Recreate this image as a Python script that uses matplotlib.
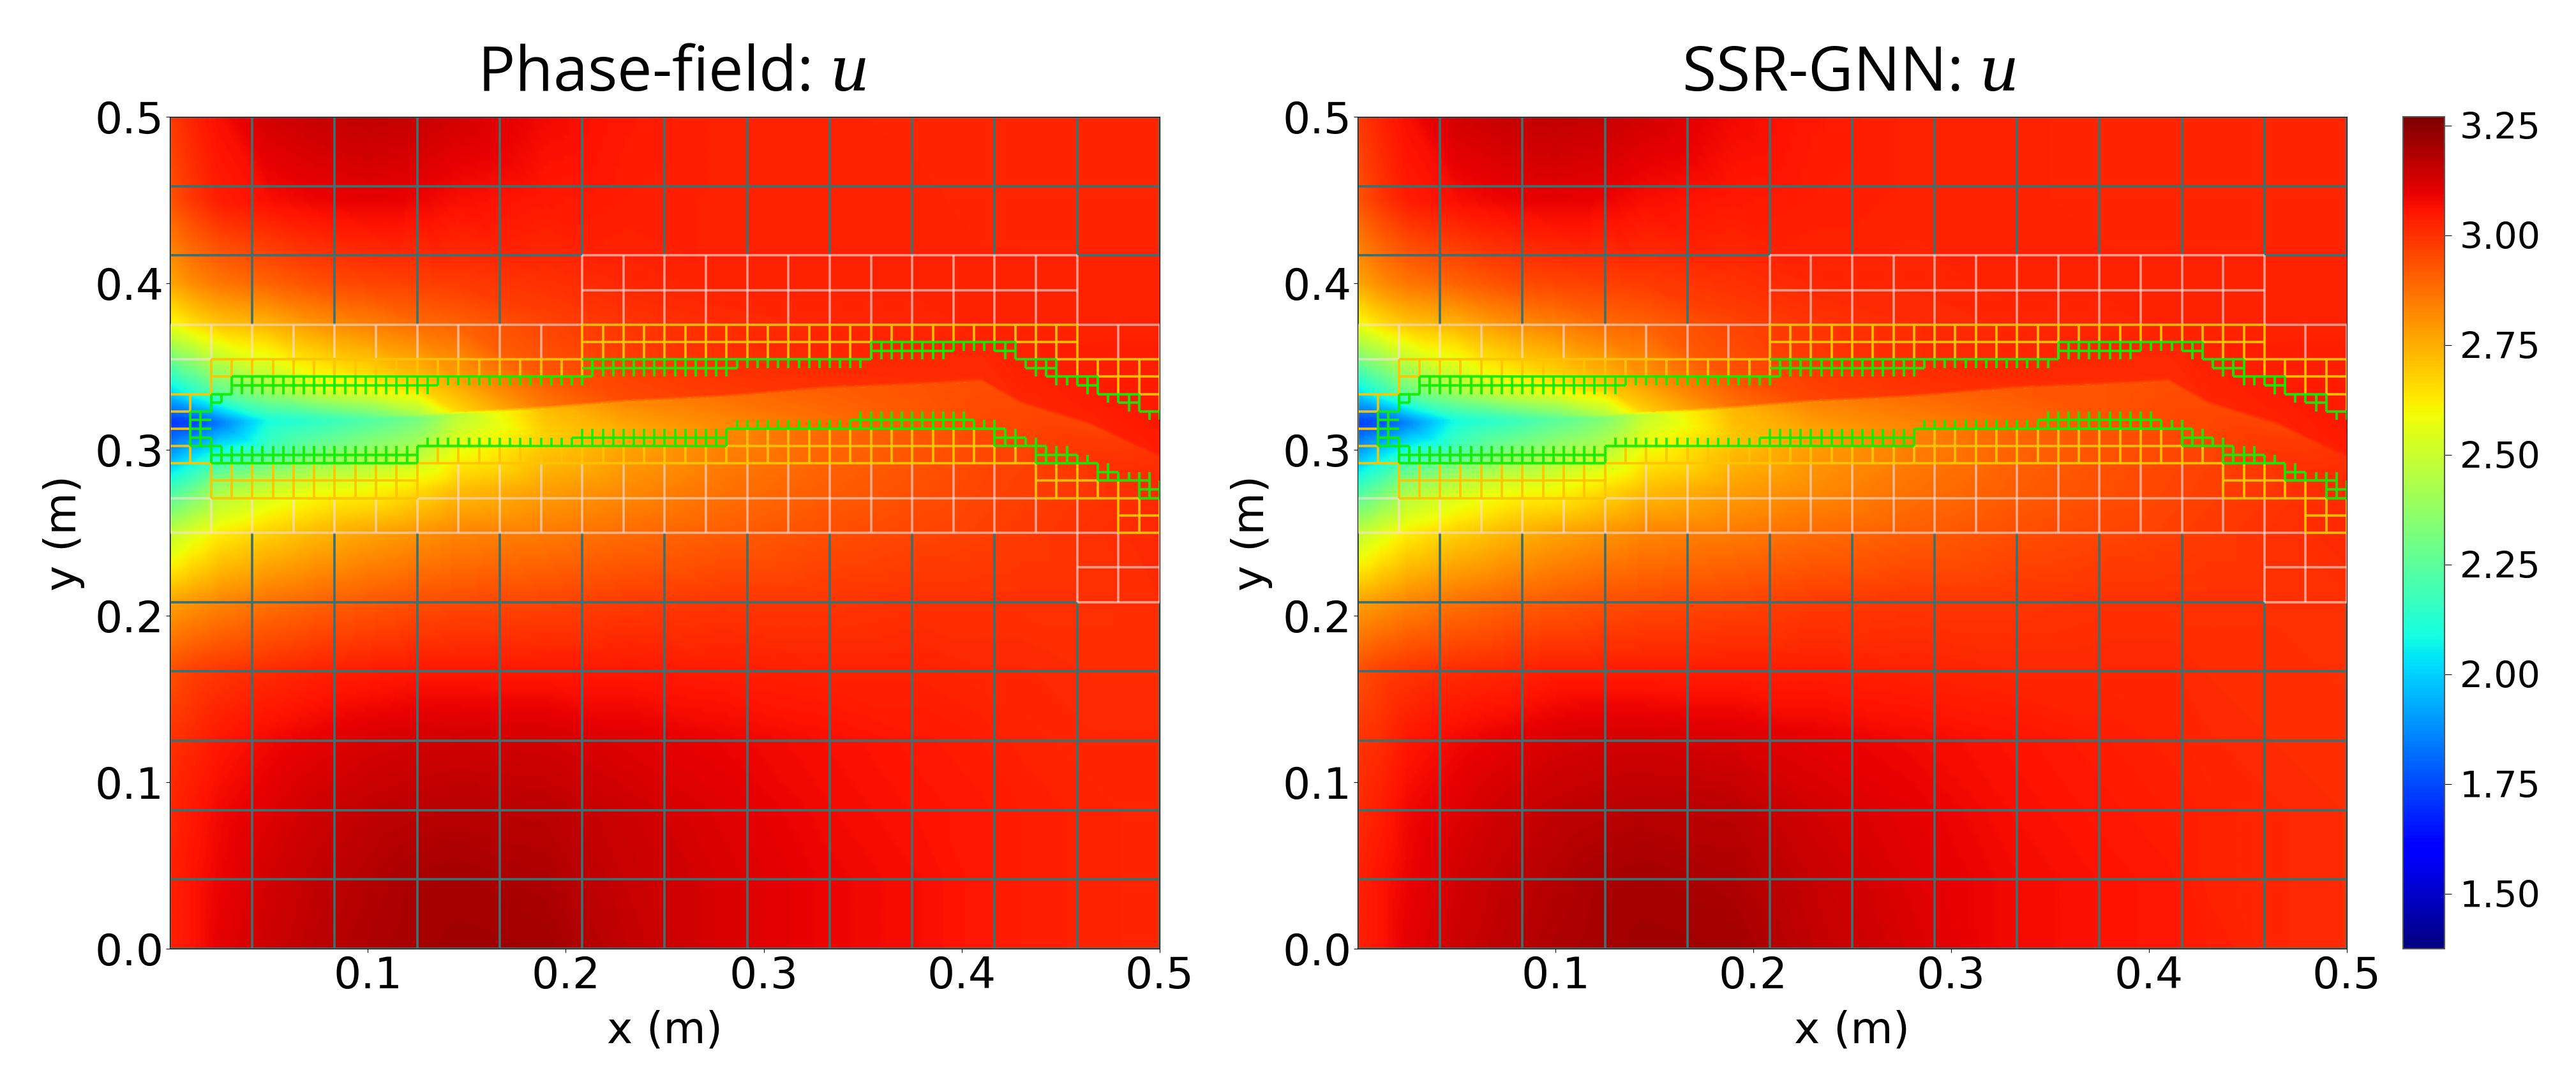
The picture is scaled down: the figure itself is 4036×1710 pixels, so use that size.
import numpy as np
import matplotlib
matplotlib.use("Agg")
import matplotlib.pyplot as plt
import matplotlib.tri as mtri

plt.rcParams['mathtext.fontset'] = 'dejavuserif'

# x stations (m) of the value tables, crack edge height at each station
x_st = [0, .012, .025, .05, .075, .1, .125, .145, .19, .23, .28, .33, .38, .41, .43, .465, .5]
crack_edge = [.316, .316, .316, .317, .318, .319, .32, .322, .3255, .3295, .3324, .3375, .34, .342, .3285, .3157, .2965]
y_below = [0, .042, .083, .125, .167, .208, .25, .275]
crack_off = [-.018, -.001, .001, .018]
y_above = [.375, .4, .45, .5]

u_pf = [
    [3.03, 3.06, 3.10, 3.14, 3.17, 3.19, 3.205, 3.215, 3.21, 3.16, 3.12, 3.09, 3.07, 3.05, 3.04, 3.03, 3.02],
    [3.03, 3.06, 3.09, 3.13, 3.16, 3.18, 3.20, 3.205, 3.19, 3.15, 3.12, 3.09, 3.07, 3.05, 3.04, 3.03, 3.02],
    [3.02, 3.05, 3.08, 3.11, 3.14, 3.16, 3.17, 3.175, 3.17, 3.14, 3.11, 3.08, 3.06, 3.05, 3.04, 3.03, 3.02],
    [3.00, 3.02, 3.05, 3.08, 3.10, 3.12, 3.13, 3.135, 3.13, 3.11, 3.09, 3.07, 3.05, 3.04, 3.03, 3.02, 3.02],
    [2.94, 2.97, 2.99, 3.01, 3.03, 3.04, 3.05, 3.05, 3.05, 3.05, 3.04, 3.03, 3.03, 3.02, 3.02, 3.01, 3.01],
    [2.77, 2.80, 2.83, 2.87, 2.90, 2.92, 2.94, 2.95, 2.96, 2.98, 2.99, 2.99, 3.00, 3.00, 3.00, 3.00, 3.01],
    [2.48, 2.55, 2.62, 2.68, 2.73, 2.77, 2.80, 2.83, 2.85, 2.88, 2.91, 2.94, 2.96, 2.97, 2.98, 3.00, 3.02],
    [2.20, 2.30, 2.43, 2.52, 2.58, 2.60, 2.66, 2.72, 2.78, 2.82, 2.87, 2.91, 2.94, 2.96, 2.97, 2.99, 3.02],
    [1.90, 2.00, 2.10, 2.20, 2.30, 2.37, 2.43, 2.55, 2.68, 2.75, 2.82, 2.88, 2.92, 2.95, 2.96, 2.99, 3.02],
    [1.72, 1.75, 1.85, 2.10, 2.15, 2.22, 2.30, 2.47, 2.72, 2.82, 2.87, 2.91, 2.93, 2.94, 2.95, 2.96, 3.00],
    [1.72, 1.75, 1.85, 2.10, 2.17, 2.27, 2.42, 2.66, 2.86, 2.95, 2.98, 3.00, 3.01, 3.01, 3.02, 3.03, 3.04],
    [2.00, 2.12, 2.25, 2.40, 2.53, 2.60, 2.68, 2.76, 2.92, 2.97, 3.00, 3.02, 3.02, 3.02, 3.03, 3.04, 3.05],
    [2.58, 2.65, 2.70, 2.74, 2.80, 2.84, 2.88, 2.90, 2.96, 2.99, 3.01, 3.02, 3.02, 3.03, 3.03, 3.03, 3.03],
    [2.76, 2.82, 2.86, 2.90, 2.94, 2.96, 2.97, 2.98, 3.00, 3.02, 3.03, 3.03, 3.03, 3.03, 3.03, 3.03, 3.03],
    [2.93, 2.99, 3.04, 3.07, 3.09, 3.10, 3.09, 3.07, 3.05, 3.04, 3.03, 3.03, 3.03, 3.02, 3.02, 3.02, 3.02],
    [2.98, 3.03, 3.07, 3.13, 3.15, 3.16, 3.15, 3.13, 3.08, 3.05, 3.03, 3.03, 3.02, 3.02, 3.02, 3.02, 3.02],
]

u_gnn = [
    [3.03, 3.06, 3.10, 3.14, 3.17, 3.19, 3.205, 3.215, 3.21, 3.16, 3.12, 3.08, 3.06, 3.05, 3.04, 3.02, 3.01],
    [3.03, 3.06, 3.09, 3.13, 3.16, 3.18, 3.20, 3.205, 3.19, 3.15, 3.11, 3.08, 3.06, 3.05, 3.03, 3.02, 3.01],
    [3.01, 3.04, 3.08, 3.11, 3.14, 3.16, 3.17, 3.175, 3.17, 3.13, 3.10, 3.07, 3.05, 3.04, 3.03, 3.02, 3.01],
    [2.99, 3.01, 3.05, 3.08, 3.10, 3.12, 3.13, 3.13, 3.12, 3.10, 3.08, 3.06, 3.04, 3.03, 3.02, 3.01, 3.01],
    [2.94, 2.97, 2.99, 3.01, 3.02, 3.04, 3.04, 3.04, 3.04, 3.04, 3.03, 3.02, 3.02, 3.02, 3.01, 3.01, 3.00],
    [2.77, 2.80, 2.83, 2.87, 2.90, 2.92, 2.94, 2.95, 2.96, 2.98, 2.99, 2.99, 3.00, 3.00, 3.00, 3.00, 3.00],
    [2.48, 2.55, 2.62, 2.68, 2.73, 2.77, 2.80, 2.83, 2.85, 2.88, 2.91, 2.94, 2.96, 2.97, 2.98, 3.00, 3.02],
    [2.20, 2.30, 2.43, 2.52, 2.58, 2.60, 2.66, 2.72, 2.78, 2.82, 2.87, 2.91, 2.94, 2.96, 2.97, 2.99, 3.02],
    [1.92, 2.02, 2.12, 2.22, 2.32, 2.39, 2.45, 2.57, 2.70, 2.77, 2.83, 2.89, 2.93, 2.95, 2.96, 2.99, 3.02],
    [1.74, 1.77, 1.87, 2.10, 2.16, 2.24, 2.33, 2.49, 2.73, 2.83, 2.88, 2.92, 2.93, 2.94, 2.95, 2.96, 3.00],
    [1.74, 1.77, 1.87, 2.10, 2.18, 2.29, 2.45, 2.68, 2.87, 2.96, 2.99, 3.01, 3.01, 3.01, 3.02, 3.03, 3.04],
    [2.02, 2.14, 2.27, 2.42, 2.55, 2.62, 2.70, 2.78, 2.93, 2.98, 3.01, 3.02, 3.02, 3.02, 3.03, 3.04, 3.05],
    [2.58, 2.65, 2.70, 2.74, 2.80, 2.84, 2.88, 2.90, 2.96, 2.99, 3.01, 3.02, 3.02, 3.03, 3.03, 3.03, 3.03],
    [2.76, 2.82, 2.86, 2.90, 2.94, 2.96, 2.97, 2.98, 3.00, 3.02, 3.02, 3.03, 3.03, 3.03, 3.03, 3.03, 3.03],
    [2.93, 2.99, 3.04, 3.07, 3.09, 3.10, 3.09, 3.07, 3.05, 3.04, 3.03, 3.03, 3.02, 3.02, 3.02, 3.02, 3.02],
    [2.98, 3.03, 3.07, 3.13, 3.15, 3.16, 3.15, 3.13, 3.08, 3.05, 3.03, 3.03, 3.02, 3.02, 3.02, 3.02, 3.02],
]

# mesh lines in base cell units: h = (j, i0, i1), v = (i, j0, j1),
# comb = (i0, i1, di, j0, j1) for a run of equal verticals
lv0_h = [(0, 0, 12), (1, 0, 12), (2, 0, 12), (3, 0, 12), (4, 0, 12), (5, 0, 11), (10, 0, 5), (10, 11, 12), (11, 0, 12), (12, 0, 12)]
lv0_v = [(0, 0, 6), (0, 9, 12), (12, 0, 5), (12, 10, 12), (5, 10, 12)]
lv0_comb = [(1, 5, 1, 0, 6), (1, 4, 1, 9, 12), (6, 10, 1, 0, 6), (6, 11, 1, 10, 12), (11, 11, 1, 0, 5)]

lv1_h = [(10, 5, 11), (9.5, 5, 11), (9, 0, 5), (9, 11, 12), (8.5, 0, .5), (6.5, 0, .5), (6.5, 3, 10.5),
         (6, 0, 11.5), (5.5, 11, 12), (5, 11, 12)]
lv1_v = [(0, 8, 9), (0, 6, 6.5), (12, 8.5, 9), (12, 5, 6), (11, 5, 6.5), (11.5, 5, 6), (11.5, 8.5, 9), (.5, 8.5, 9), (10.5, 6, 6.5)]
lv1_comb = [(5, 11, .5, 9, 10), (1, 4.5, .5, 8.5, 9), (.5, 3, .5, 6, 6.5), (3.5, 10, .5, 6, 7)]

lv2_h = [(9, 5, 11), (8.75, 5, 8.5), (8.75, 10.25, 11), (8.5, .5, 5), (8.5, 10.75, 12), (8.25, .5, .75), (8.25, 11.25, 12),
         (8, 0, .5), (8, 11.75, 12), (7.75, 0, .25), (7.5, 0, .25), (7.25, 0, .25), (7.25, 6.75, 10), (7, 0, .5), (7, 3, 10.5),
         (6.75, .5, 3), (6.75, 10.5, 11.25), (6.5, .5, 3), (6.5, 10.5, 11.75), (6.25, 11.5, 12), (6, 11.5, 12)]
lv2_v = [(.5, 8, 8.5), (.25, 7.75, 8), (.25, 7, 7.25), (0, 7, 8), (3, 6.5, 7), (10, 7, 7.25), (10.25, 7, 7.25), (10.5, 6.5, 7),
         (10.75, 6.5, 7), (11, 6.5, 7), (11.25, 6.5, 6.75), (11.5, 6, 6.75), (11.75, 6, 6.5), (12, 6, 6.5),
         (5, 8.25, 9), (10.5, 8.5, 9), (10.75, 8.5, 9), (11, 8.25, 9), (11.25, 8.25, 8.5), (11.5, 8, 8.5), (11.75, 8, 8.5), (12, 7.75, 8.5)]
lv2_comb = [(.75, 4.75, .25, 8.25, 8.5), (5.25, 8.5, .25, 8.5, 9), (8.75, 10.25, .25, 8.75, 9), (.5, 2.75, .25, 6.5, 7),
            (3.25, 9.75, .25, 7, 7.25), (7, 9.75, .25, 7.25, 7.5)]

lv3_h = [(8.5, 5, 8.5), (8.375, 5, 6.875), (8.25, .75, 5.125), (8.125, .75, 3.25), (8, .5, .75), (7.875, .5, .625),
         (7.75, .25, .5), (7.625, .25, .5), (7.5, .25, .5), (7.375, .25, .5), (7.25, .25, .625), (7.125, .5, 3), (7, .5, 3),
         (8.75, 8.5, 10.25), (8.625, 8.5, 9.5), (8.625, 10, 10.25), (8.5, 10.25, 10.75), (8.375, 10.375, 10.75),
         (8.25, 10.625, 11.25), (8.125, 11, 11.25), (8, 11.25, 11.75), (7.875, 11.5, 11.75), (7.75, 11.75, 12),
         (7.25, 3, 6.75), (7.375, 4.875, 6.75), (7.5, 6.75, 10.125), (7.625, 8.25, 9.75), (7.375, 10, 10.375), (7.25, 10, 10.625),
         (7.125, 10.5, 11), (7, 10.5, 11.25), (6.875, 11.25, 11.5), (6.75, 11.25, 11.875), (6.625, 11.75, 12), (6.5, 11.75, 12)]
lv3_v = [(.25, 7.25, 7.75), (.375, 7.25, 7.75), (.5, 7.75, 8), (.5, 7.25, 7.375), (.5, 7, 7.25), (.625, 7.875, 8), (.625, 7, 7.25),
         (5.125, 8.25, 8.5), (8.5, 8.5, 8.75), (9.5, 8.625, 8.75), (10, 8.625, 8.75), (10.125, 8.5, 8.75), (10.25, 8.5, 8.75),
         (10.375, 8.375, 8.5), (10.5, 8.25, 8.5), (10.625, 8.25, 8.5), (10.75, 8.125, 8.5), (10.875, 8.125, 8.25), (11, 8.125, 8.25),
         (11.125, 8, 8.25), (11.25, 8, 8.25), (11.375, 7.875, 8), (11.5, 7.875, 8), (11.625, 7.75, 8), (11.75, 7.75, 8),
         (11.875, 7.625, 7.75), (12, 7.625, 7.75), (3, 7, 7.25), (4.875, 7.25, 7.375), (6.75, 7.25, 7.5), (8.25, 7.5, 7.625),
         (9.75, 7.5, 7.625), (9.875, 7.5, 7.625), (10, 7.25, 7.625), (10.125, 7.25, 7.5), (10.25, 7.25, 7.5), (10.375, 7.25, 7.375),
         (10.5, 7, 7.375), (10.625, 7, 7.25), (10.75, 7, 7.25), (10.875, 7, 7.25), (11, 7, 7.125), (11.125, 7, 7.125),
         (11.25, 6.75, 7), (11.375, 6.75, 7), (11.5, 6.75, 6.875), (11.625, 6.75, 6.875), (11.75, 6.5, 6.875), (11.875, 6.5, 6.875),
         (12, 6.5, 6.75)]
lv3_comb = [(.75, 3.125, .125, 8, 8.25), (3.25, 5, .125, 8.125, 8.25), (5.25, 6.75, .125, 8.25, 8.5), (6.875, 8.375, .125, 8.375, 8.5),
            (8.625, 9.375, .125, 8.5, 8.75), (9.625, 9.875, .125, 8.625, 8.75), (.75, 2.875, .125, 7, 7.25),
            (3.125, 4.75, .125, 7.25, 7.375), (5, 6.625, .125, 7.25, 7.5), (6.875, 8.125, .125, 7.5, 7.625), (8.375, 9.625, .125, 7.5, 7.75)]

levels = [
    (lv0_h, lv0_v, lv0_comb, '#3f7070', 1.0),
    (lv1_h, lv1_v, lv1_comb, '#ffdcdc', 0.62),
    (lv2_h, lv2_v, lv2_comb, '#ffc400', 0.95),
    (lv3_h, lv3_v, lv3_comb, '#10ee00', 0.95),
]

cell = 0.5 / 12
vmin, vmax = 1.375, 3.27
cb_ticks = [1.5, 1.75, 2.0, 2.25, 2.5, 2.75, 3.0, 3.25]

W, H = 4037, 1710


def px_axes(fig, x0, x1, y0, y1):
    return fig.add_axes([x0 / W, 1 - y1 / H, (x1 - x0) / W, (y1 - y0) / H])


def field(ax, table):
    xs = np.array(x_st)
    edge = np.array(crack_edge)
    rows = [np.full(len(xs), v) for v in y_below]
    rows += [edge + o for o in crack_off]
    rows += [np.full(len(xs), v) for v in y_above]
    Y = np.array(rows)
    X = np.tile(xs, (len(rows), 1))
    U = np.array(table)
    nr, nc = U.shape
    tris = []
    for r in range(nr - 1):
        for c in range(nc - 1):
            a = r * nc + c
            tris.append([a, a + 1, a + nc])
            tris.append([a + 1, a + nc + 1, a + nc])
    tr = mtri.Triangulation(X.ravel(), Y.ravel(), tris)
    refiner = mtri.UniformTriRefiner(tr)
    interp = mtri.LinearTriInterpolator(tr, U.ravel())
    tr2, u2 = refiner.refine_field(U.ravel(), triinterpolator=interp, subdiv=4)
    return ax.tripcolor(tr2, u2, shading='gouraud', cmap='jet', vmin=vmin, vmax=vmax, rasterized=True)


def mesh(ax):
    for hs, vs, combs, col, al in levels:
        kw = dict(colors=col, alpha=al, linewidth=2.7, capstyle='butt')
        for j, i0, i1 in hs:
            ax.hlines(j * cell, i0 * cell, i1 * cell, **kw)
        for i, j0, j1 in vs:
            ax.vlines(i * cell, j0 * cell, j1 * cell, **kw)
        for i0, i1, di, j0, j1 in combs:
            for i in np.arange(i0, i1 + di / 2, di):
                ax.vlines(i * cell, j0 * cell, j1 * cell, **kw)


def panel(fig, x0, x1, table, title, title_x):
    ax = px_axes(fig, x0, x1, 183, 1487)
    pc = field(ax, table)
    mesh(ax)
    ax.set_xlim(0, 0.5)
    ax.set_ylim(0, 0.5)
    ax.set_xticks([0.1, 0.2, 0.3, 0.4, 0.5])
    ax.set_yticks([0.0, 0.1, 0.2, 0.3, 0.4, 0.5])
    ax.tick_params(labelsize=49, length=4, width=0.8, pad=3)
    ax.set_xlabel('x (m)', fontsize=49, labelpad=14)
    ax.set_ylabel('y (m)', fontsize=49, labelpad=11)
    for s in ax.spines.values():
        s.set_linewidth(0.8)
    fig.text(title_x / W, 1 - 142 / H, title, fontsize=70, family='Open Sans', ha='center', va='baseline')
    return pc


fig = plt.figure(figsize=(W / 100, H / 100), dpi=100)
pc = panel(fig, 266, 1817, u_pf, 'Phase-field: $u$', 1052)
panel(fig, 2127, 3677, u_gnn, 'SSR-GNN: $u$', 2897)

cax = px_axes(fig, 3765, 3830, 183, 1487)
cb = fig.colorbar(pc, cax=cax, ticks=cb_ticks, format='%.2f')
cb.ax.tick_params(labelsize=41, length=8, width=0.8, pad=9)
cb.outline.set_edgecolor('#555555')
cb.outline.set_linewidth(1.5)

fig.savefig('out.png', dpi=100)
